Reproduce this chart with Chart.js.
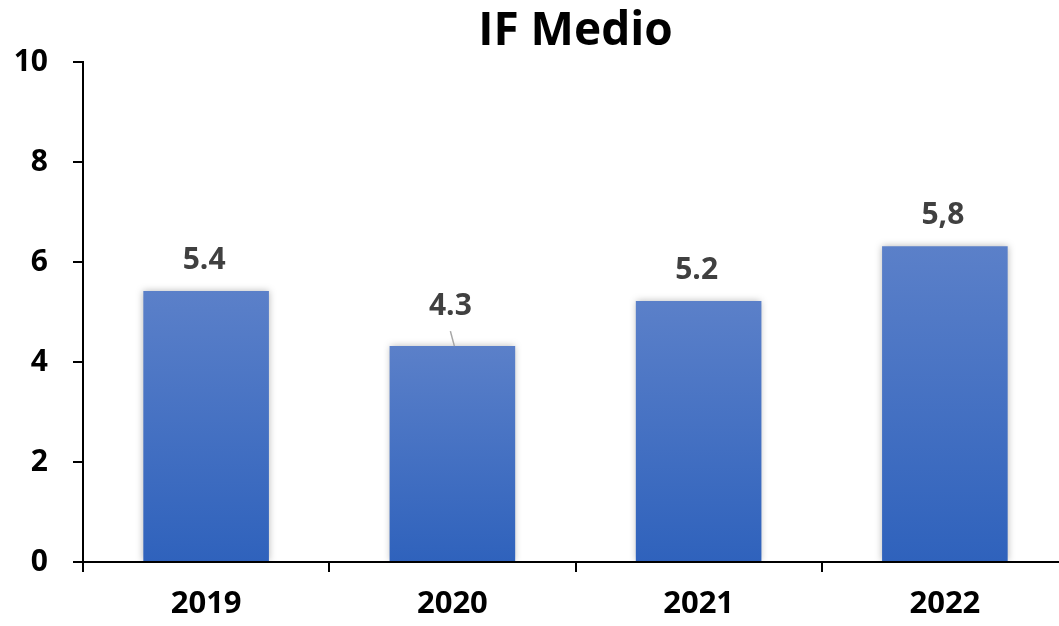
<!DOCTYPE html>
<html>
<head>
<meta charset="utf-8">
<title>IF Medio</title>
<script src="https://cdn.jsdelivr.net/npm/chart.js@4.4.1/dist/chart.umd.min.js"></script>
<style>
    html, body { margin: 0; padding: 0; background: #fff; overflow: hidden; }
    #box { width: 1070px; height: 626px; }
</style>
</head>
<body>
<div id="box"><canvas id="ifChart"></canvas></div>
<script>
// data
const years = ["2019", "2020", "2021", "2022"];
const ifValues = [5.42, 4.32, 5.22, 6.32];
const valueLabels = ["5.4", "4.3", "5.2", "5,8"];
const yTicks = [0, 2, 4, 6, 8, 10];

const FONT = "'Open Sans', 'DejaVu Sans', sans-serif";
const leaderIndex = 1; // label lifted and tied to bar with a short line

function barGradient(context) {
    let chart = context.chart;
    let area = chart.chartArea;
    if (!area) return "#4472C4";
    let y = chart.scales.y;
    let top = y.getPixelForValue(context.raw);
    let bottom = y.getPixelForValue(0);
    let g = chart.ctx.createLinearGradient(0, top, 0, bottom);
    g.addColorStop(0, "#5B80C9");
    g.addColorStop(1, "#2F62BC");
    return g;
}

const shadowPlugin = {
    id: "barShadow",
    beforeDatasetsDraw(chart) {
        let ctx = chart.ctx;
        ctx.save();
        ctx.shadowColor = "rgba(0,0,0,0.28)";
        ctx.shadowBlur = 7;
        ctx.shadowOffsetX = 0;
        ctx.shadowOffsetY = 0;
    },
    afterDatasetsDraw(chart) {
        chart.ctx.restore();
    }
};

const labelPlugin = {
    id: "valueLabels",
    afterDraw(chart) {
        let ctx = chart.ctx;
        let meta = chart.getDatasetMeta(0);
        ctx.save();
        ctx.font = "bold 30px " + FONT;
        ctx.fillStyle = "#404040";
        ctx.textAlign = "center";
        ctx.textBaseline = "middle";
        meta.data.forEach(function (bar, i) {
            let lift = (i === leaderIndex) ? 40 : 31;
            ctx.fillText(valueLabels[i], bar.x - 2, bar.y - lift);
            if (i === leaderIndex) {
                ctx.strokeStyle = "#A6A6A6";
                ctx.lineWidth = 1.5;
                ctx.beginPath();
                ctx.moveTo(bar.x - 2, bar.y - 15);
                ctx.lineTo(bar.x + 2, bar.y);
                ctx.stroke();
            }
        });
        ctx.restore();
    }
};

new Chart(document.getElementById("ifChart"), {
    type: "bar",
    data: {
        labels: years,
        datasets: [{
            label: "IF Medio",
            data: ifValues,
            backgroundColor: barGradient,
            borderWidth: 0,
            categoryPercentage: 1,
            barPercentage: 0.51
        }]
    },
    options: {
        responsive: true,
        maintainAspectRatio: false,
        animation: false,
        layout: { padding: { right: 2 } },
        plugins: {
            legend: { display: false },
            tooltip: { enabled: false },
            title: {
                display: true,
                text: "IF Medio",
                fullSize: false,
                color: "#000",
                font: { family: FONT, size: 46, weight: "bold" },
                padding: { top: 4, bottom: 3 }
            }
        },
        scales: {
            x: {
                afterFit: function (scale) { scale.height = 64; },
                grid: {
                    offset: true,
                    drawOnChartArea: false,
                    tickLength: 10,
                    color: "#000",
                    lineWidth: 2
                },
                border: { color: "#000", width: 2 },
                ticks: {
                    color: "#000",
                    padding: 14,
                    font: { family: FONT, size: 31, weight: "bold" }
                }
            },
            y: {
                min: 0,
                max: 10,
                afterFit: function (scale) { scale.width = 83; },
                afterBuildTicks: function (scale) {
                    scale.ticks = yTicks.map(function (v) { return { value: v }; });
                },
                grid: {
                    drawOnChartArea: false,
                    tickLength: 10,
                    color: "#000",
                    lineWidth: 2
                },
                border: { color: "#000", width: 2 },
                ticks: {
                    color: "#000",
                    padding: 25,
                    font: { family: FONT, size: 30, weight: "bold" }
                }
            }
        }
    },
    plugins: [shadowPlugin, labelPlugin]
});
</script>
</body>
</html>
